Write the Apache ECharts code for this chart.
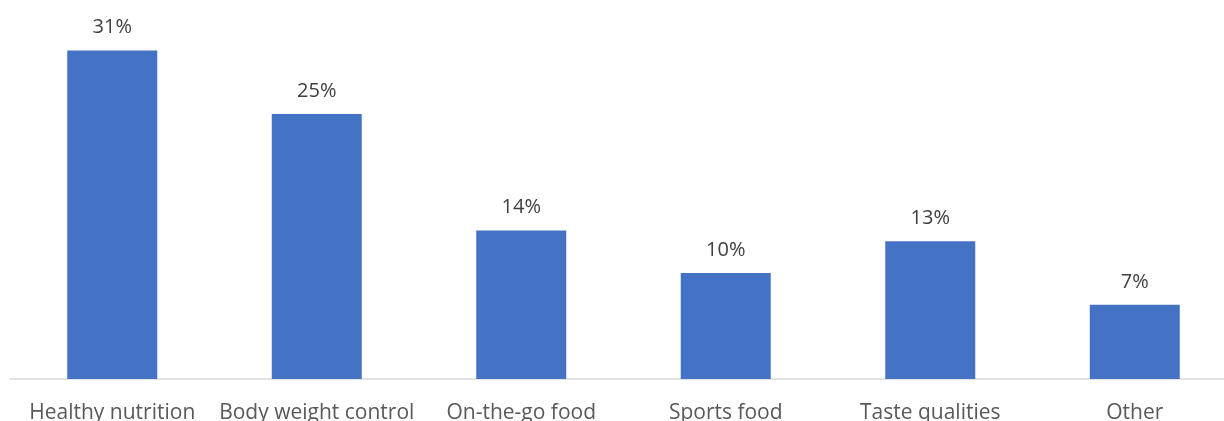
<!DOCTYPE html>
<html>
<head>
<meta charset="utf-8">
<script src="https://cdn.jsdelivr.net/npm/echarts@6/dist/echarts.min.js"></script>
<style>
  html, body { margin: 0; padding: 0; background: #ffffff; }
  #chart { width: 1224px; height: 421px; }
</style>
</head>
<body>
<div id="chart"></div>
<script>
// Share of respondents by purpose of consumption
const categories = ['Healthy nutrition', 'Body weight control', 'On-the-go food', 'Sports food', 'Taste qualities', 'Other'];
const shares = [31, 25, 14, 10, 13, 7];

const chart = echarts.init(document.getElementById('chart'), null, { renderer: 'canvas' });

chart.setOption({
  animation: false,
  // the plot area runs a little past the right edge of the canvas
  grid: { left: 10, width: 1227, top: 8, bottom: 42, outerBoundsMode: 'none' },
  xAxis: {
    type: 'category',
    data: categories,
    axisLine: { lineStyle: { color: '#d9d9d9', width: 1.5 } },
    axisTick: { show: false },
    axisLabel: {
      color: '#595959',
      fontFamily: 'Open Sans',
      fontSize: 21,
      margin: 24,
      interval: 0
    }
  },
  yAxis: {
    type: 'value',
    min: 0,
    max: 35,
    show: false,
    splitLine: { show: false }
  },
  series: [{
    type: 'bar',
    data: shares,
    barWidth: 90,
    itemStyle: { color: '#4472c4' },
    label: {
      show: true,
      position: 'top',
      distance: 13,
      color: '#404040',
      fontFamily: 'Open Sans',
      fontSize: 20,
      formatter: p => p.value + '%'
    }
  }]
});
</script>
</body>
</html>
